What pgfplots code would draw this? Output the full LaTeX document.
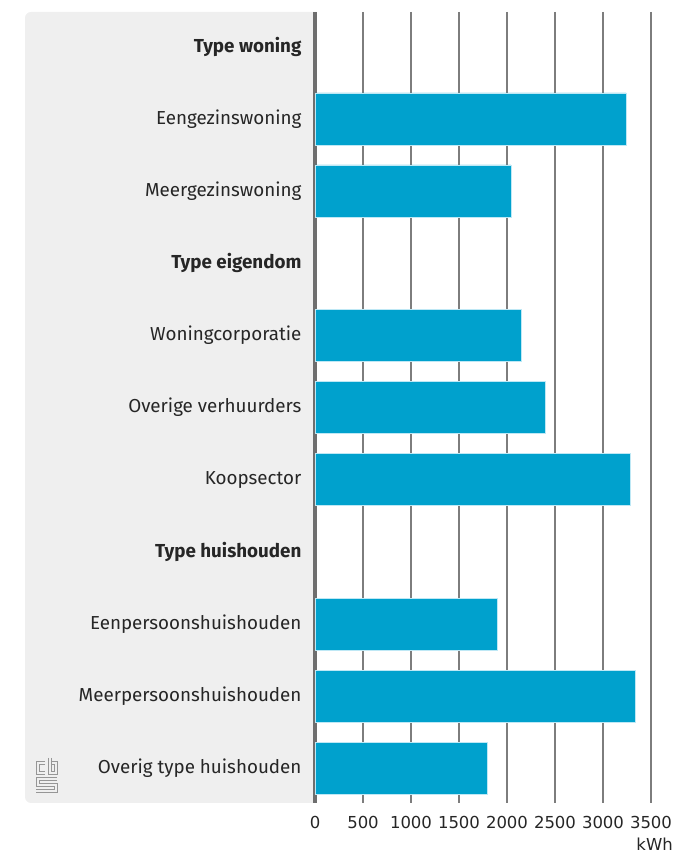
\documentclass[border=0pt]{standalone}
\usepackage{pgfplots}
\pgfplotsset{compat=1.18}
\usepackage{fontspec}
\setmainfont{Fira Sans}
\newfontfamily\tickfont{DejaVu Sans}
\definecolor{cbsblue}{RGB}{0,161,205}
\definecolor{panel}{RGB}{239,239,239}
\definecolor{gridc}{RGB}{125,125,125}
\definecolor{axc}{RGB}{110,110,110}
\definecolor{logoc}{RGB}{150,150,150}
\begin{document}
\begin{tikzpicture}[x=1pt,y=1pt]
\path (0,0) rectangle (678,858);
\fill[panel, rounded corners=6pt] (25,55) rectangle (325,846);
\fill[white] (316,50) rectangle (330,850);
% cbs logo
\begin{scope}[draw=logoc, line width=0.8pt]
\draw (45,97) -- (36,97) -- (36,84) -- (45,84);
\draw (45,94) -- (39,94) -- (39,87) -- (45,87);
\draw (48,100) -- (48,84) -- (57,84) -- (57,97) -- (51,97);
\draw (51,100) -- (51,87) -- (54,87) -- (54,94) -- (51,94);
\draw (57,81) -- (36,81) -- (36,72) -- (54,72) -- (54,69) -- (36,69);
\draw (57,78) -- (39,78) -- (39,75) -- (57,75) -- (57,66) -- (36,66);
\end{scope}
\begin{axis}[
  at={(315pt,55pt)}, anchor=south west,
  scale only axis, width=336pt, height=791pt,
  xmin=0, xmax=3500, ymin=-0.48, ymax=10.48,
  y dir=reverse,
  axis lines=left,
  x axis line style={draw=none},
  y axis line style={draw=axc, line width=3.5pt, -},
  major tick length=0pt,
  xtick={0,500,...,3500},
  ytick={0,...,10},
  yticklabels={\textbf{Type woning},Eengezinswoning,Meergezinswoning,\textbf{Type eigendom},Woningcorporatie,Overige verhuurders,Koopsector,\textbf{Type huishouden},Eenpersoonshuishouden,Meerpersoonshuishouden,Overig type huishouden},
  yticklabel style={font=\fontsize{18.8}{22}\selectfont, xshift=-10pt, text=black!85},
  xticklabel style={font=\tickfont\fontsize{16.5}{19}\selectfont, yshift=-10pt, text=black!85},
  /pgf/number format/assume math mode=true,
  /pgf/number format/1000 sep={},
  xmajorgrids, ymajorgrids=false,
  grid style={draw=gridc, line width=1.3pt},
  xlabel={kWh},
  xlabel style={at={(axis description cs:1,0)}, anchor=north east, xshift=22pt, yshift=-35pt, font=\tickfont\fontsize{16.5}{19}\selectfont, text=black!85, inner sep=0pt},
  clip=false,
]
\addplot[xbar, bar width=52pt, fill=cbsblue, draw={rgb,255:red,190;green,232;blue,245}, line width=0.6pt] coordinates {
(3240,1) (2040,2) (2150,4) (2400,5) (3280,6) (1900,8) (3340,9) (1795,10)};
\end{axis}
\end{tikzpicture}
\end{document}
